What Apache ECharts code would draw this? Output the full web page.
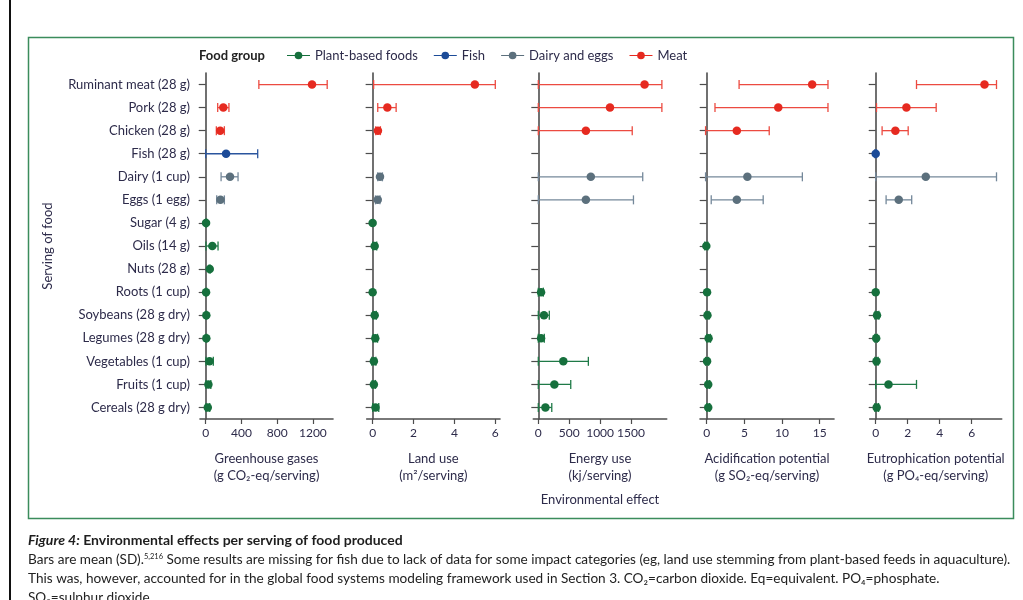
<!DOCTYPE html>
<html>
<head>
<meta charset="utf-8">
<script src="https://cdn.jsdelivr.net/npm/echarts@6/dist/echarts.min.js"></script>
<style>
  html, body { margin: 0; padding: 0; background: #ffffff; }
  #chart { width: 1023px; height: 600px; }
</style>
</head>
<body>
<div id="chart"></div>
<script>
// Servings of food, top to bottom
const foods = [
  'Ruminant meat (28 g)', 'Pork (28 g)', 'Chicken (28 g)', 'Fish (28 g)',
  'Dairy (1 cup)', 'Eggs (1 egg)', 'Sugar (4 g)', 'Oils (14 g)', 'Nuts (28 g)',
  'Roots (1 cup)', 'Soybeans (28 g dry)', 'Legumes (28 g dry)',
  'Vegetables (1 cup)', 'Fruits (1 cup)', 'Cereals (28 g dry)'
];
const foodGroupOf = [
  'Meat', 'Meat', 'Meat', 'Fish', 'Dairy and eggs', 'Dairy and eggs',
  'Plant-based foods', 'Plant-based foods', 'Plant-based foods', 'Plant-based foods',
  'Plant-based foods', 'Plant-based foods', 'Plant-based foods', 'Plant-based foods',
  'Plant-based foods'
];
const groupNames = ['Plant-based foods', 'Fish', 'Dairy and eggs', 'Meat'];

// Greenhouse gases (g CO2-eq/serving): mean, bar low end, bar high end
const ghgMean = [1190, 197, 162, 228, 272, 165, 4, 74, 45, 4, 7, 7, 42, 30, 23];
const ghgLow  = [595, 134, 119, 0, 172, 123, 0, 3, 38, 0, 2, 2, 3, 3, 3];
const ghgHigh = [1360, 260, 209, 582, 362, 209, 10, 138, 52, 10, 12, 12, 85, 57, 45];

// Land use (m2/serving)
const landMean = [5.0, 0.72, 0.26, null, 0.36, 0.25, 0.0, 0.1, null, 0.0, 0.1, 0.13, 0.06, 0.06, 0.14];
const landLow  = [0.05, 0.25, 0.15, null, 0.25, 0.14, null, 0.0, null, null, 0.02, 0.03, -0.04, -0.02, 0.0];
const landHigh = [6.0, 1.15, 0.38, null, 0.48, 0.36, null, 0.2, null, null, 0.18, 0.24, 0.16, 0.14, 0.3];

// Energy use (kj/serving)
const energyMean = [1720, 1160, 770, null, 850, 770, null, null, null, 45, 92, 45, 405, 260, 115];
const energyLow  = [0, 0, 0, null, 0, 0, null, null, null, 0, 0, 0, 0, 0, 0];
const energyHigh = [2000, 2000, 1520, null, 1690, 1540, null, null, null, 82, 178, 97, 810, 525, 218];

// Acidification potential (g SO2-eq/serving)
const acidMean = [14.0, 9.5, 4.0, null, 5.4, 4.0, null, -0.05, null, 0.05, 0.1, 0.25, 0.05, 0.2, 0.2];
const acidLow  = [4.3, 1.1, -0.15, null, -0.15, 0.6, null, -0.25, null, null, -0.1, 0.0, -0.15, 0.0, 0.0];
const acidHigh = [16.1, 16.1, 8.3, null, 12.7, 7.5, null, 0.15, null, null, 0.3, 0.5, 0.25, 0.4, 0.4];

// Eutrophication potential (g PO4-eq/serving)
const eutroMean = [6.8, 1.92, 1.23, 0.0, 3.13, 1.44, null, null, null, 0.0, 0.08, 0.03, 0.05, 0.8, 0.06];
const eutroLow  = [2.55, 0.05, 0.4, -0.05, 0.0, 0.65, null, null, null, null, -0.04, -0.05, -0.05, 0.0, -0.05];
const eutroHigh = [7.55, 3.78, 2.03, 0.05, 7.55, 2.25, null, null, null, null, 0.2, 0.1, 0.15, 2.55, 0.18];

// Axis ranges and tick labels for each effect
const axisMin   = [-64, -0.29, -81, -0.89, -0.375];
const axisMax   = [1425, 6.23, 2078, 16.9, 7.875];
const tickVals  = [[0, 400, 800, 1200], [0, 2, 4, 6], [0, 500, 1000, 1500], [0, 5, 10, 15], [0, 2, 4, 6]];
const axisTitles = [
  'Greenhouse gases\n(g CO\u2082-eq/serving)',
  'Land use\n(m\u00b2/serving)',
  'Energy use\n(kj/serving)',
  'Acidification potential\n(g SO\u2082-eq/serving)',
  'Eutrophication potential\n(g PO\u2084-eq/serving)'
];

const panels = [
  { mean: ghgMean, low: ghgLow, high: ghgHigh },
  { mean: landMean, low: landLow, high: landHigh },
  { mean: energyMean, low: energyLow, high: energyHigh },
  { mean: acidMean, low: acidLow, high: acidHigh },
  { mean: eutroMean, low: eutroLow, high: eutroHigh }
];

const FONT = 'Lato, "Noto Sans", sans-serif';
const TEXT = '#2d2b4a';
const AXIS = '#4d4d4d';
const dotColors = {
  'Plant-based foods': '#16703d',
  'Fish': '#1c4b98',
  'Dairy and eggs': '#5c707d',
  'Meat': '#e62a20'
};
const barColors = {
  'Plant-based foods': '#1f7a47',
  'Fish': '#2a559e',
  'Dairy and eggs': '#74889a',
  'Meat': '#ec4a40'
};

const gridLeft  = [200, 366.7, 533.3, 700, 869.7];
const gridWidth = [133, 133.3, 133.4, 134, 132];
const gridTop = 73, gridHeight = 346;

const grids = [], xAxes = [], yAxes = [], series = [];

for (let p = 0; p < panels.length; p++) {
  grids.push({ left: gridLeft[p], top: gridTop, width: gridWidth[p], height: gridHeight, containLabel: false });
  xAxes.push({
    type: 'value', gridIndex: p, min: axisMin[p], max: axisMax[p],
    name: axisTitles[p], nameLocation: 'middle', nameGap: 31,
    nameTextStyle: { fontFamily: FONT, fontSize: 13, color: TEXT, lineHeight: 17 },
    axisLine: { show: true, lineStyle: { color: AXIS, width: 1.6 } },
    axisTick: { show: true, length: 5, customValues: tickVals[p], lineStyle: { color: AXIS, width: 1.2 } },
    axisLabel: {
      customValues: tickVals[p], margin: 8, hideOverlap: false,
      formatter: function (v) { return String(v); },
      fontFamily: FONT, fontSize: 12, color: TEXT
    },
    splitLine: { show: false }
  });
  yAxes.push({
    type: 'category', gridIndex: p, data: foods, inverse: true,
    name: p === 0 ? 'Serving of food' : '', nameLocation: 'middle', nameRotate: 90, nameGap: 146,
    nameTextStyle: { fontFamily: FONT, fontSize: 13, color: TEXT },
    axisLine: { show: true, lineStyle: { color: AXIS, width: 1.6 } },
    axisTick: { show: true, alignWithLabel: true, length: 7, lineStyle: { color: AXIS, width: 1.2 } },
    axisLabel: { show: p === 0, margin: 10, fontFamily: FONT, fontSize: 13, color: TEXT },
    splitLine: { show: false }
  });

  const pd = panels[p];
  groupNames.forEach(function (g) {
    const bars = [], dots = [];
    for (let i = 0; i < foods.length; i++) {
      if (foodGroupOf[i] !== g || pd.mean[i] == null) continue;
      dots.push([pd.mean[i], i]);
      if (pd.low[i] != null) bars.push([pd.low[i], pd.high[i], i]);
    }
    series.push({
      name: g, type: 'custom', xAxisIndex: p, yAxisIndex: p, z: 2,
      encode: { x: [0, 1], y: 2 },
      data: bars,
      renderItem: function (params, api) {
        const y = api.value(2);
        const a = api.coord([api.value(0), y]);
        const b = api.coord([api.value(1), y]);
        const h = 4.5;
        const style = { stroke: barColors[g], lineWidth: 1.3, fill: null };
        return {
          type: 'group',
          children: [
            { type: 'line', shape: { x1: a[0], y1: a[1], x2: b[0], y2: b[1] }, style: style },
            { type: 'line', shape: { x1: a[0], y1: a[1] - h, x2: a[0], y2: a[1] + h }, style: style },
            { type: 'line', shape: { x1: b[0], y1: b[1] - h, x2: b[0], y2: b[1] + h }, style: style }
          ]
        };
      }
    });
    series.push({
      name: g, type: 'scatter', xAxisIndex: p, yAxisIndex: p, z: 3,
      symbol: 'circle', symbolSize: 8.5,
      itemStyle: { color: dotColors[g], opacity: 1 },
      emphasis: { disabled: true },
      data: dots
    });
  });
}

// Legend icon: a short line through a dot
const legendIcon = 'path://M0 3.35H24V4.65H0Z M8 4A4 4 0 1 1 16 4A4 4 0 1 1 8 4Z';

const captionLine2 = 'Bars are mean (SD).{sup|5,216} Some results are missing for fish due to lack of data for some impact categories (eg, land use stemming from plant-based feeds in aquaculture).';
const captionLine3 = 'This was, however, accounted for in the global food systems modeling framework used in Section 3. CO\u2082=carbon dioxide. Eq=equivalent. PO\u2084=phosphate.';
const captionLine4 = 'SO\u2082=sulphur dioxide';

const chart = echarts.init(document.getElementById('chart'), null, { renderer: 'canvas' });
chart.setOption({
  animation: false,
  backgroundColor: '#ffffff',
  grid: grids,
  xAxis: xAxes,
  yAxis: yAxes,
  legend: {
    left: 287, top: 49, padding: 0, itemGap: 16, itemWidth: 23, itemHeight: 8,
    selectedMode: false,
    textStyle: { fontFamily: FONT, fontSize: 13, color: TEXT },
    data: groupNames.map(function (g) {
      return { name: g, icon: legendIcon, itemStyle: { color: dotColors[g] } };
    })
  },
  series: series,
  graphic: [
    { type: 'rect', silent: true, shape: { x: 28.5, y: 37.5, width: 985, height: 481 },
      style: { fill: null, stroke: '#3b8c5c', lineWidth: 1.5 } },
    { type: 'rect', silent: true, shape: { x: 9, y: 0, width: 2, height: 600 },
      style: { fill: '#111111' } },
    { type: 'text', silent: true, x: 199, y: 56,
      style: { text: 'Food group', fontFamily: FONT, fontSize: 13, fontWeight: 'bold', fill: '#222', verticalAlign: 'middle' } },
    { type: 'text', silent: true, x: 600, y: 500,
      style: { text: 'Environmental effect', fontFamily: FONT, fontSize: 13, fill: TEXT, align: 'center', verticalAlign: 'middle' } },
    { type: 'text', silent: true, x: 28, y: 540,
      style: {
        text: '{i|Figure 4:} Environmental effects per serving of food produced',
        fontFamily: FONT, fontSize: 14, fontWeight: 'bold', fill: '#1e1e1e', verticalAlign: 'middle',
        rich: { i: { fontFamily: FONT, fontSize: 14, fontWeight: 'bold', fontStyle: 'italic', fill: '#1e1e1e' } }
      } },
    { type: 'text', silent: true, x: 28, y: 560,
      style: {
        text: captionLine2, fontFamily: FONT, fontSize: 13.6, fill: '#222', verticalAlign: 'middle',
        rich: { sup: { fontFamily: FONT, fontSize: 7.5, fill: '#222', verticalAlign: 'top', padding: [0, 0, 6, 0] } }
      } },
    { type: 'text', silent: true, x: 28, y: 579,
      style: { text: captionLine3, fontFamily: FONT, fontSize: 13.6, fill: '#222', verticalAlign: 'middle' } },
    { type: 'text', silent: true, x: 28, y: 598,
      style: { text: captionLine4, fontFamily: FONT, fontSize: 13.6, fill: '#222', verticalAlign: 'middle' } }
  ]
});
</script>
</body>
</html>
